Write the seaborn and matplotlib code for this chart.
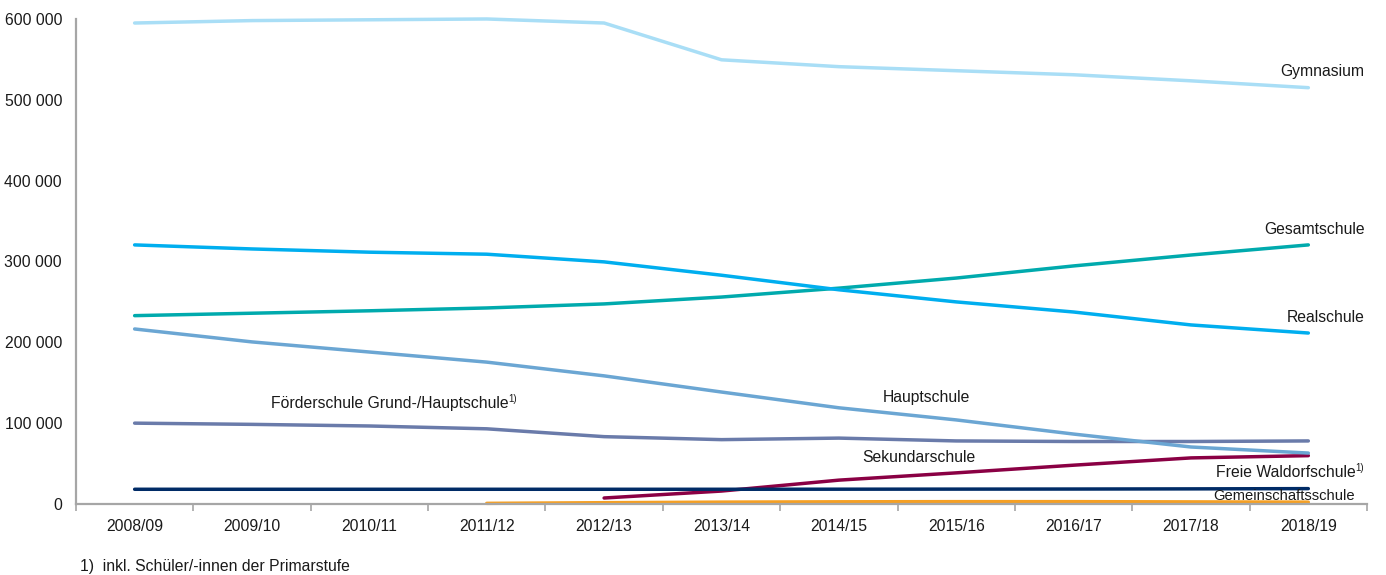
import numpy as np
import pandas as pd
import matplotlib
matplotlib.use("Agg")
import matplotlib.pyplot as plt
import seaborn as sns
from matplotlib.ticker import FuncFormatter, FixedLocator

years = ["2008/09", "2009/10", "2010/11", "2011/12", "2012/13", "2013/14",
         "2014/15", "2015/16", "2016/17", "2017/18", "2018/19"]

gymnasium = [595000, 598000, 599000, 600000, 595000, 549500, 541000, 536000, 531000, 523500, 515000]
realschule = [320500, 315500, 311500, 309000, 299500, 283000, 265000, 250000, 237500, 221500, 211500]
gesamtschule = [233000, 236000, 239000, 242500, 247500, 256000, 267000, 279500, 294500, 308000, 320500]
hauptschule = [216500, 200500, 188000, 175500, 158500, 138500, 119000, 104000, 86500, 70500, 63000]
foerderschule = [100000, 98500, 96500, 93000, 83300, 79600, 81500, 78000, 77300, 77300, 78000]
waldorf = [18200, 18200, 18200, 18200, 18200, 18200, 18300, 18400, 18500, 18700, 19000]
sekundarschule = [None, None, None, None, 7400, 16000, 29500, 38500, 48000, 57000, 59800]
gemeinschaft = [None, None, None, 800, 1600, 2300, 2700, 2900, 2900, 2600, 2300]

series = {
    "Gymnasium": gymnasium,
    "Realschule": realschule,
    "Gesamtschule": gesamtschule,
    "Hauptschule": hauptschule,
    "Förderschule Grund-/Hauptschule": foerderschule,
    "Freie Waldorfschule": waldorf,
    "Sekundarschule": sekundarschule,
    "Gemeinschaftsschule": gemeinschaft,
}
palette = {
    "Gymnasium": "#A9DEF6",
    "Realschule": "#00AEEF",
    "Gesamtschule": "#00AAAD",
    "Hauptschule": "#6BA6D3",
    "Förderschule Grund-/Hauptschule": "#6A7BAA",
    "Freie Waldorfschule": "#002B66",
    "Sekundarschule": "#8A0044",
    "Gemeinschaftsschule": "#F5A024",
}

rows = []
for name, vals in series.items():
    for i, v in enumerate(vals):
        if v is not None:
            rows.append({"pos": i, "Schulform": name, "Schüler": v})
df = pd.DataFrame(rows)

sns.set_theme(style="white")
plt.rcParams["font.family"] = ["Liberation Sans", "DejaVu Sans"]

fig = plt.figure(figsize=(13.86, 5.75), dpi=100)
ax = fig.add_axes([0.0548, 0.1235, 0.9315, 0.8435])

sns.lineplot(data=df, x="pos", y="Schüler", hue="Schulform", palette=palette,
             hue_order=list(series.keys())[::-1], linewidth=2.5, legend=False,
             ax=ax)
for ln in ax.get_lines():
    ln.set_clip_on(False)
    ln.set_solid_joinstyle("round")

ax.set_xlim(-0.5, len(years) - 0.5)
ax.set_ylim(0, 600000)
ax.set_xlabel("")
ax.set_ylabel("")

FS = 11.3
ax.xaxis.set_major_locator(FixedLocator(range(len(years))))
ax.set_xticklabels(years)
ax.xaxis.set_minor_locator(FixedLocator(np.arange(-0.5, len(years), 1.0)))
ax.tick_params(axis="x", which="major", length=0, pad=11, labelsize=FS, colors="#1a1a1a")
ax.tick_params(axis="x", which="minor", length=5, width=1.2, color="#A6A6A6", direction="out")
ax.set_yticks(np.arange(0, 600001, 100000))
ax.yaxis.set_major_formatter(FuncFormatter(lambda v, p: f"{int(v):,}".replace(",", " ")))
ax.tick_params(axis="y", length=4, width=1.2, color="#A6A6A6", direction="out",
               pad=6, labelsize=FS, labelcolor="#1a1a1a")
ax.tick_params(bottom=False, which="major")
ax.tick_params(bottom=True, which="minor")

for side in ["top", "right"]:
    ax.spines[side].set_visible(False)
for side in ["left", "bottom"]:
    ax.spines[side].set_color("#A6A6A6")
    ax.spines[side].set_linewidth(1.6)

lab = dict(fontsize=FS, color="#1a1a1a")
ax.text(10.48, 535000, "Gymnasium", ha="right", va="center", **lab)
ax.text(10.48, 339000, "Gesamtschule", ha="right", va="center", **lab)
ax.text(10.48, 231000, "Realschule", ha="right", va="center", **lab)
ax.text(6.75, 132000, "Hauptschule", ha="center", va="center", **lab)
t1 = ax.text(1.16, 124500, "Förderschule Grund-/Hauptschule", ha="left", va="center", **lab)
ax.annotate("1)", xy=(1.0, 0.8), xycoords=t1, ha="left", va="center", fontsize=7, color="#1a1a1a")
ax.text(6.68, 57000, "Sekundarschule", ha="center", va="center", **lab)
t2 = ax.text(10.4, 39500, "Freie Waldorfschule", ha="right", va="center", **lab)
ax.annotate("1)", xy=(1.0, 0.8), xycoords=t2, ha="left", va="center", fontsize=7, color="#1a1a1a")
ax.text(10.4, 9500, "Gemeinschaftsschule", ha="right", va="center", fontsize=10.6, color="#1a1a1a")

fig.text(80 / 1386, 1 - 567 / 575, "1)  inkl. Schüler/-innen der Primarstufe",
         ha="left", va="center", fontsize=FS, color="#1a1a1a")

fig.savefig("out.png", dpi=100, facecolor="white")
